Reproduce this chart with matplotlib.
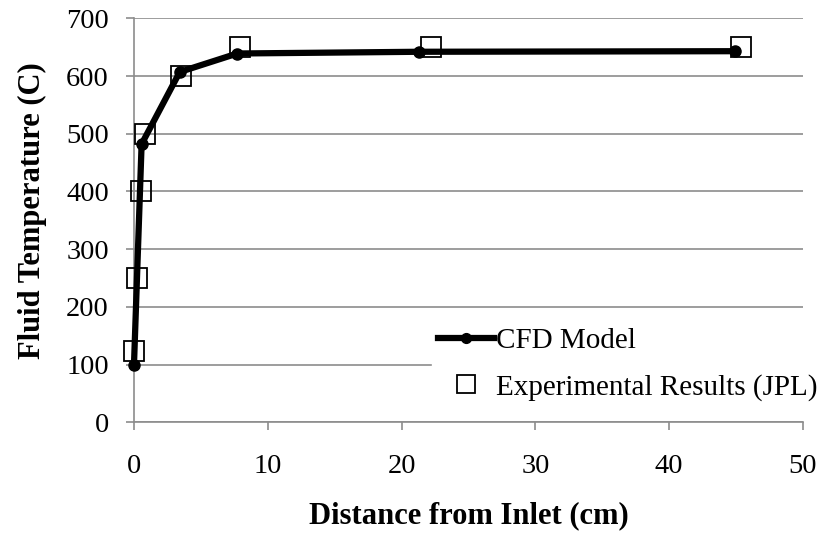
import matplotlib
matplotlib.use("Agg")
from matplotlib import pyplot as plt

# CFD model (line with dots)
cfd_x = [0.0, 0.57, 3.42, 7.72, 21.3, 44.9]
cfd_y = [100, 482, 607, 639, 642, 643]

# JPL experimental results (open squares)
exp_x = [0.0, 0.2, 0.5, 0.82, 3.5, 7.9, 22.2, 45.4]
exp_y = [123, 250, 400, 500, 600, 651, 650, 651]

x_ticks = [0, 10, 20, 30, 40, 50]
y_ticks = [0, 100, 200, 300, 400, 500, 600, 700]

plt.rcParams['font.family'] = ['Liberation Serif', 'DejaVu Serif']

fig = plt.figure(figsize=(8.23, 5.35), dpi=100)
ax = fig.add_axes([0.1628, 0.2107, 0.8129, 0.7551])

grid_col = '#8c8c8c'
ax.set_xlim(0, 50)
ax.set_ylim(0, 700)
ax.set_xticks(x_ticks)
ax.set_yticks(y_ticks)
ax.yaxis.grid(True, color=grid_col, linewidth=1.2)
ax.set_axisbelow(True)

for s in ['top', 'right']:
    ax.spines[s].set_visible(False)
for s in ['left', 'bottom']:
    ax.spines[s].set_color(grid_col)
    ax.spines[s].set_linewidth(1.2)
ax.tick_params(axis='both', direction='out', length=6, width=1.2,
               color=grid_col, labelsize=20.5, pad=12)
ax.tick_params(axis='x', pad=17)

ax.plot(cfd_x, cfd_y, color='black', linewidth=4.5, marker='o', markersize=8,
        label='CFD Model', zorder=3, clip_on=False)
ax.plot(exp_x, exp_y, linestyle='none', marker='s', markersize=14,
        markerfacecolor='none', markeredgecolor='black', markeredgewidth=1.3,
        label='Experimental Results (JPL)', zorder=4, clip_on=False)

ax.set_xlabel('Distance from Inlet (cm)', fontsize=22, fontweight='bold', labelpad=16)
ax.set_ylabel('Fluid Temperature (C)', fontsize=22, fontweight='bold', labelpad=14)
ax.yaxis.label.set_y(0.523)

leg = fig.legend(loc='upper left', bbox_to_anchor=(0.5072, 0.4254), fontsize=21,
                 frameon=True, framealpha=1.0, edgecolor='white', fancybox=False,
                 handlelength=1.92, handletextpad=0.07, borderpad=0.2,
                 labelspacing=0.67, markerscale=0.88)

fig.savefig('out.png', dpi=100)
